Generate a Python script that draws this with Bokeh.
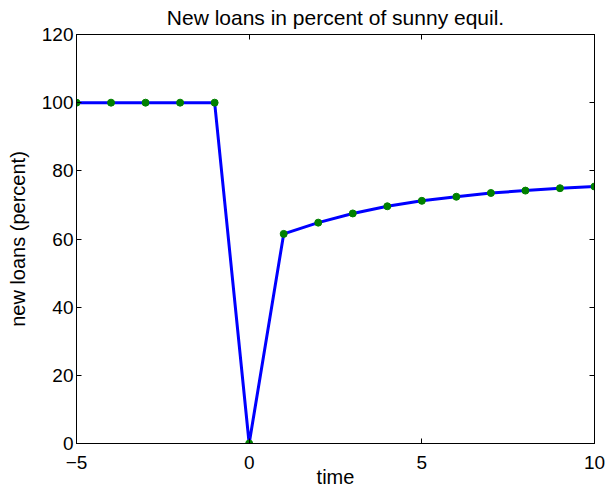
from bokeh.plotting import figure
from bokeh.models import LinearAxis, Range1d, FixedTicker, ColumnDataSource
from bokeh.embed import file_html
from bokeh.resources import INLINE

# ---- data ----
time = [-5, -4, -3, -2, -1, 0, 1, 2, 3, 4, 5, 6, 7, 8, 9, 10]
new_loans = [100, 100, 100, 100, 100, 0, 61.5, 64.8, 67.5, 69.6, 71.2, 72.4, 73.5, 74.2, 74.9, 75.4]
x_ticks = [-5, 0, 5, 10]
x_tick_labels = ["\u22125", "0", "5", "10"]
y_ticks = [0, 20, 40, 60, 80, 100, 120]
y_tick_labels = ["0", "20", "40", "60", "80", "100", "120"]
title_text = "New loans in percent of sunny equil."
x_label = "time"
y_label = "new loans (percent)"

FONT = "Liberation Sans"

src = ColumnDataSource(dict(t=time, v=new_loans))

p = figure(width=607, height=490,
           x_range=Range1d(-5, 10), y_range=Range1d(0, 120),
           output_backend="svg", toolbar_location=None,
           min_border_left=76, min_border_right=13,
           min_border_top=34, min_border_bottom=47,
           background_fill_color="white", border_fill_color="white")

p.outline_line_color = "black"
p.outline_line_width = 1
p.grid.visible = False

def style_axis(ax):
    ax.major_tick_in = 5
    ax.major_tick_out = 0
    ax.minor_tick_in = 0
    ax.minor_tick_out = 0
    ax.axis_line_color = "black"
    ax.major_tick_line_color = "black"
    ax.major_label_text_font = FONT
    ax.major_label_text_color = "black"
    ax.major_label_text_font_size = "19px"
    ax.axis_label_text_font = FONT
    ax.axis_label_text_font_style = "normal"
    ax.axis_label_text_color = "black"
    ax.axis_label_text_line_height = 1.0

xa = p.xaxis[0]
ya = p.yaxis[0]
xa.ticker = FixedTicker(ticks=x_ticks)
ya.ticker = FixedTicker(ticks=y_ticks)
xa.major_label_overrides = {k: v for k, v in zip(x_ticks, x_tick_labels)}
ya.major_label_overrides = {k: v for k, v in zip(y_ticks, y_tick_labels)}
style_axis(xa)
style_axis(ya)
xa.major_label_standoff = 12
ya.major_label_standoff = 3
xa.axis_label = x_label
ya.axis_label = y_label
xa.axis_label_text_font_size = "20px"
ya.axis_label_text_font_size = "20px"
xa.axis_label_standoff = -6
ya.axis_label_standoff = 10

# mirrored inner ticks on top (carrying the title) and right, no tick labels
top = LinearAxis(ticker=FixedTicker(ticks=x_ticks), major_label_standoff=0)
style_axis(top)
top.major_label_overrides = {k: "" for k in x_ticks}
top.major_label_text_font_size = "0px"
top.axis_label = title_text
top.axis_label_text_font_size = "21px"
top.axis_label_standoff = 6
right = LinearAxis(ticker=FixedTicker(ticks=y_ticks), major_label_standoff=0)
style_axis(right)
right.major_label_overrides = {k: "" for k in y_ticks}
right.major_label_text_font_size = "0px"
p.add_layout(top, "above")
p.add_layout(right, "right")

p.line("t", "v", source=src, line_color="#0000ff", line_width=3)
p.scatter("t", "v", source=src, size=7, fill_color="#008000", line_color="#008000")

open("out.html", "w").write(file_html(p, INLINE))
